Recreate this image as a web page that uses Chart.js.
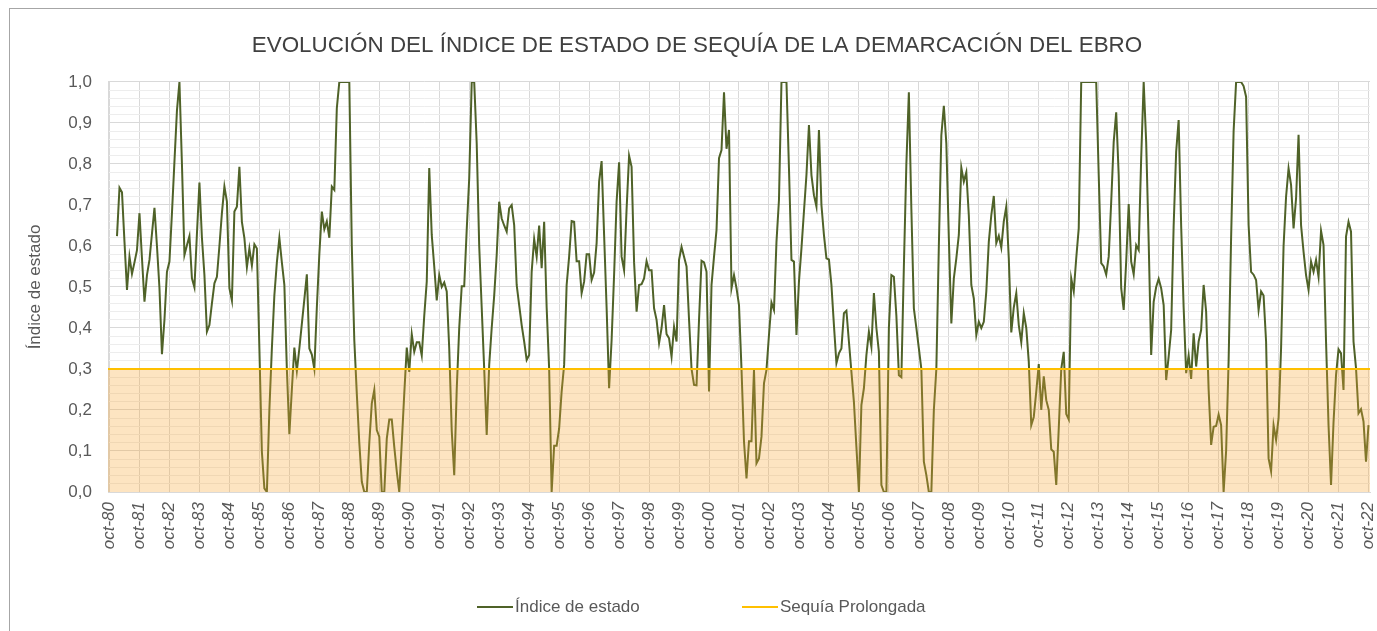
<!DOCTYPE html>
<html lang="es">
<head>
<meta charset="utf-8">
<title>Evolución del índice de estado de sequía - Ebro</title>
<script src="https://cdn.jsdelivr.net/npm/chart.js@4.4.1/dist/chart.umd.min.js"></script>
<style>
  html, body { margin: 0; padding: 0; background: #fff; overflow: hidden; }
  #wrap { position: relative; width: 1400px; height: 631px; }
  #frame { position: absolute; left: 9px; top: 8px; width: 1500px; height: 700px;
           border: 1px solid #a6a6a6; box-sizing: border-box; pointer-events: none; }
  #legend { position: absolute; left: 0; top: 597px; height: 20px;
            font: 17px "Liberation Sans", Arial, sans-serif; color: #595959; }
  .item { position: absolute; top: 0; height: 20px; display: flex; align-items: center; white-space: nowrap; }
  .item i { display: inline-block; width: 36px; height: 2px; margin-right: 2px; }
</style>
</head>
<body>
<div id="wrap">
  <canvas id="sequia"></canvas>
  <div id="frame"></div>
  <div id="legend"></div>
</div>
<script>
// eje x: meses contados desde oct-80 (0), una etiqueta cada octubre
const tickLabels = [
  'oct-80', 'oct-81', 'oct-82', 'oct-83', 'oct-84', 'oct-85', 'oct-86', 'oct-87', 'oct-88', 'oct-89',
  'oct-90', 'oct-91', 'oct-92', 'oct-93', 'oct-94', 'oct-95', 'oct-96', 'oct-97', 'oct-98', 'oct-99',
  'oct-00', 'oct-01', 'oct-02', 'oct-03', 'oct-04', 'oct-05', 'oct-06', 'oct-07', 'oct-08', 'oct-09',
  'oct-10', 'oct-11', 'oct-12', 'oct-13', 'oct-14', 'oct-15', 'oct-16', 'oct-17', 'oct-18', 'oct-19',
  'oct-20', 'oct-21', 'oct-22'
];

// primer valor = ene-81 (mes 3), último = oct-22 (mes 504)
const firstMonth = 3;

// índice de estado mensual
const indice = [
  0.624, 0.742, 0.731, 0.61, 0.493, 0.574, 0.532, 0.56, 0.59, 0.68, 0.57, 0.464,
  0.529, 0.566, 0.63, 0.693, 0.6, 0.497, 0.336, 0.42, 0.537, 0.562, 0.68, 0.806,
  0.93, 1.0, 0.8, 0.578, 0.602, 0.624, 0.521, 0.499, 0.63, 0.755, 0.62, 0.529,
  0.391, 0.407, 0.46, 0.509, 0.525, 0.6, 0.68, 0.745, 0.708, 0.497, 0.467, 0.684,
  0.696, 0.793, 0.659, 0.619, 0.548, 0.594, 0.552, 0.604, 0.594, 0.35, 0.098, 0.009,
  0.0, 0.2, 0.35, 0.48, 0.56, 0.62, 0.56, 0.505, 0.30, 0.141, 0.25, 0.352,
  0.295, 0.35, 0.41, 0.47, 0.531, 0.35, 0.335, 0.30, 0.45, 0.58, 0.684, 0.641,
  0.66, 0.62, 0.745, 0.737, 0.936, 1.0, 1.0, 1.0, 1.0, 1.0, 0.6, 0.37,
  0.24, 0.12, 0.025, 0.0, 0.0, 0.12, 0.216, 0.249, 0.151, 0.135, 0.0, 0.0,
  0.13, 0.177, 0.177, 0.11, 0.05, 0.0, 0.12, 0.24, 0.352, 0.293, 0.385, 0.342,
  0.365, 0.365, 0.333, 0.43, 0.513, 0.79, 0.627, 0.55, 0.467, 0.529, 0.5, 0.511,
  0.489, 0.35, 0.15, 0.041, 0.25, 0.4, 0.502, 0.502, 0.64, 0.765, 1.0, 1.0,
  0.85, 0.6, 0.45, 0.30, 0.139, 0.31, 0.4, 0.479, 0.578, 0.708, 0.667, 0.65,
  0.635, 0.692, 0.7, 0.651, 0.505, 0.456, 0.407, 0.367, 0.322, 0.334, 0.537, 0.617,
  0.574, 0.65, 0.546, 0.659, 0.45, 0.30, 0.0, 0.113, 0.113, 0.155, 0.245, 0.31,
  0.505, 0.574, 0.661, 0.659, 0.563, 0.563, 0.485, 0.513, 0.58, 0.58, 0.517, 0.535,
  0.607, 0.757, 0.807, 0.627, 0.45, 0.253, 0.37, 0.53, 0.708, 0.804, 0.574, 0.541,
  0.69, 0.82, 0.793, 0.56, 0.44, 0.505, 0.507, 0.521, 0.563, 0.541, 0.541, 0.448,
  0.42, 0.363, 0.4, 0.456, 0.385, 0.375, 0.33, 0.403, 0.367, 0.566, 0.598, 0.574,
  0.55, 0.42, 0.30, 0.261, 0.26, 0.42, 0.564, 0.56, 0.537, 0.245, 0.505, 0.574,
  0.639, 0.814, 0.834, 0.975, 0.837, 0.883, 0.497, 0.529, 0.497, 0.456, 0.30, 0.123,
  0.033, 0.124, 0.124, 0.298, 0.07, 0.082, 0.135, 0.265, 0.298, 0.383, 0.462, 0.444,
  0.61, 0.712, 1.0, 1.0, 1.0, 0.79, 0.566, 0.562, 0.383, 0.513, 0.594, 0.684,
  0.773, 0.895, 0.773, 0.724, 0.696, 0.883, 0.7, 0.627, 0.57, 0.567, 0.505, 0.407,
  0.314, 0.338, 0.35, 0.436, 0.442, 0.367, 0.293, 0.22, 0.11, 0.0, 0.212, 0.253,
  0.334, 0.391, 0.354, 0.485, 0.4, 0.342, 0.017, 0.0, 0.0, 0.4, 0.529, 0.525,
  0.43, 0.285, 0.28, 0.55, 0.8, 0.975, 0.69, 0.448, 0.4, 0.35, 0.30, 0.074,
  0.041, 0.0, 0.0, 0.2, 0.3, 0.6, 0.87, 0.942, 0.85, 0.62, 0.411, 0.521,
  0.57, 0.627, 0.791, 0.757, 0.78, 0.675, 0.505, 0.472, 0.383, 0.415, 0.4, 0.415,
  0.489, 0.61, 0.675, 0.722, 0.607, 0.625, 0.596, 0.66, 0.696, 0.57, 0.389, 0.45,
  0.485, 0.407, 0.365, 0.436, 0.4, 0.318, 0.163, 0.183, 0.245, 0.312, 0.2, 0.282,
  0.224, 0.2, 0.104, 0.098, 0.017, 0.155, 0.30, 0.342, 0.19, 0.177, 0.521, 0.489,
  0.57, 0.643, 1.0, 1.0, 1.0, 1.0, 1.0, 1.0, 1.0, 0.773, 0.558, 0.55,
  0.53, 0.574, 0.708, 0.854, 0.926, 0.773, 0.497, 0.444, 0.562, 0.702, 0.562, 0.531,
  0.602, 0.59, 0.814, 1.0, 0.854, 0.61, 0.334, 0.464, 0.5, 0.52, 0.497, 0.456,
  0.273, 0.33, 0.395, 0.65, 0.83, 0.907, 0.65, 0.45, 0.29, 0.333, 0.276, 0.387,
  0.306, 0.367, 0.395, 0.505, 0.44, 0.25, 0.115, 0.159, 0.161, 0.189, 0.163, 0.0,
  0.1, 0.32, 0.62, 0.88, 1.0, 1.0, 1.0, 0.99, 0.964, 0.651, 0.537, 0.53,
  0.517, 0.444, 0.489, 0.479, 0.367, 0.082, 0.051, 0.163, 0.127, 0.18, 0.35, 0.6,
  0.72, 0.789, 0.749, 0.643, 0.716, 0.871, 0.651, 0.586, 0.529, 0.493, 0.562, 0.537,
  0.566, 0.525, 0.637, 0.602, 0.367, 0.163, 0.017, 0.17, 0.285, 0.348, 0.338, 0.249,
  0.623, 0.659, 0.635, 0.367, 0.302, 0.192, 0.202, 0.172, 0.074, 0.163
];

// umbral de sequía prolongada
const umbral = 0.3;

const xMin = -0.6, xMax = 504.6;
const isMajor = v => Math.abs(v * 10 - Math.round(v * 10)) < 1e-6;

Chart.defaults.font.family = '"Liberation Sans", Arial, sans-serif';
Chart.defaults.color = '#595959';

const chart = new Chart(document.getElementById('sequia'), {
  type: 'line',
  data: {
    datasets: [{
      label: 'Índice de estado',
      data: indice.map((v, k) => ({ x: firstMonth + k, y: v })),
      borderColor: '#4f6228',
      borderWidth: 2,
      pointRadius: 0,
      tension: 0,
      fill: false,
      order: 1
    }, {
      label: 'Sequía Prolongada',
      data: [{ x: xMin, y: umbral }, { x: xMax, y: umbral }],
      borderColor: '#ffc000',
      borderWidth: 2,
      pointRadius: 0,
      fill: 'origin',
      backgroundColor: 'rgba(247, 165, 50, 0.3)',
      order: 0
    }]
  },
  options: {
    responsive: true,
    maintainAspectRatio: false,
    animation: false,
    layout: { padding: { left: 24, right: 30, top: 0, bottom: 0 } },
    plugins: {
      legend: { display: false },
      tooltip: { enabled: false },
      title: {
        display: true,
        text: 'EVOLUCIÓN DEL ÍNDICE DE ESTADO DE SEQUÍA DE LA DEMARCACIÓN DEL EBRO',
        color: '#404040',
        font: { size: 22.4, weight: 'normal' },
        padding: { top: 32.5, bottom: 22.6 }
      }
    },
    scales: {
      x: {
        type: 'linear',
        min: xMin,
        max: xMax,
        afterFit: s => { s.height = 139; },
        afterBuildTicks: s => { s.ticks = tickLabels.map((_, k) => ({ value: k * 12 })); },
        border: { color: '#d9d9d9' },
        grid: { drawTicks: false, color: '#d9d9d9' },
        ticks: {
          autoSkip: false,
          minRotation: 90,
          maxRotation: 90,
          padding: 10,
          font: { size: 17, style: 'italic' },
          callback: v => tickLabels[Math.round(v / 12)]
        }
      },
      y: {
        min: 0,
        max: 1,
        afterFit: s => { s.width = 84; },
        border: { color: '#d9d9d9' },
        grid: {
          drawTicks: false,
          color: ctx => (ctx.tick && isMajor(ctx.tick.value)) ? '#d9d9d9' : '#ededed'
        },
        ticks: {
          stepSize: 0.02,
          autoSkip: false,
          padding: 16,
          font: { size: 17 },
          callback: v => isMajor(v) ? v.toFixed(1).replace('.', ',') : ''
        },
        title: {
          display: true,
          text: 'Índice de estado',
          font: { size: 17 },
          padding: { top: 1, bottom: 0 }
        }
      }
    }
  }
});

// leyenda en HTML con los colores de cada serie
const legendLefts = [477, 742];
chart.data.datasets.forEach((ds, k) => {
  const item = document.createElement('div');
  item.className = 'item';
  item.style.left = legendLefts[k] + 'px';
  item.innerHTML = `<i style="background:${ds.borderColor}"></i>${ds.label}`;
  document.getElementById('legend').appendChild(item);
});
</script>
</body>
</html>
